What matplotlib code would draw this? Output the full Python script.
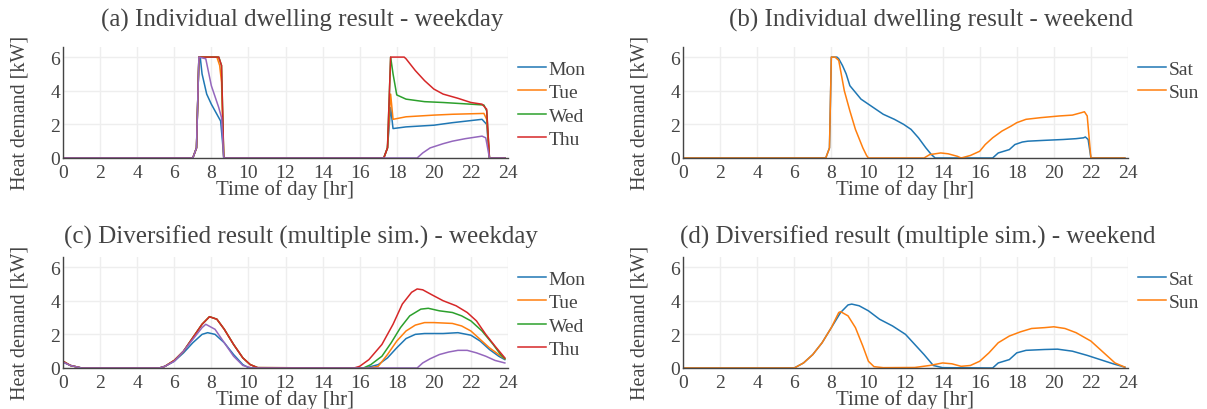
import matplotlib
matplotlib.use("Agg")
import matplotlib.pyplot as plt

plt.rcParams['font.family'] = ['Liberation Serif', 'DejaVu Serif']

# ---- (a) individual dwelling, weekday ----
a_mon_t = [0, 7.0, 7.2, 7.33, 7.4, 7.5, 7.75, 8.0, 8.3, 8.5, 8.6, 8.67, 17.3, 17.5, 17.67, 17.8, 18.5, 20, 21, 22.6, 22.85, 23.0, 23.83]
a_mon_v = [0, 0, 0.6, 6.0, 6.0, 5.0, 3.8, 3.2, 2.6, 2.2, 1.0, 0, 0, 0.6, 3.0, 1.75, 1.85, 1.95, 2.1, 2.3, 2.0, 0, 0]
a_tue_t = [0, 7.0, 7.2, 7.33, 8.3, 8.45, 8.55, 8.67, 17.3, 17.5, 17.67, 17.8, 18.5, 20, 21, 22.7, 22.85, 23.0, 23.83]
a_tue_v = [0, 0, 0.6, 6.0, 6.0, 5.5, 4.5, 0, 0, 0.6, 3.8, 2.3, 2.45, 2.55, 2.6, 2.65, 2.3, 0, 0]
a_wed_t = [0, 7.0, 7.2, 7.33, 8.4, 8.55, 8.67, 17.3, 17.5, 17.67, 17.8, 18.0, 18.5, 19.5, 20.5, 22.0, 22.7, 22.85, 23.0, 23.83]
a_wed_v = [0, 0, 0.6, 6.0, 6.0, 5.5, 0, 0, 0.6, 6.0, 5.0, 3.75, 3.5, 3.35, 3.3, 3.2, 3.15, 2.8, 0, 0]
a_thu_t = [0, 7.0, 7.2, 7.33, 8.4, 8.55, 8.67, 17.3, 17.5, 17.67, 18.4, 18.5, 19.0, 19.5, 20.0, 20.5, 21.3, 22.0, 22.6, 22.85, 23.0, 23.83]
a_thu_v = [0, 0, 0.6, 6.0, 6.0, 5.5, 0, 0, 0.6, 6.0, 6.0, 5.9, 5.2, 4.6, 4.1, 3.8, 3.55, 3.3, 3.2, 2.9, 0, 0]
a_fri_t = [0, 7.0, 7.2, 7.33, 7.7, 8.0, 8.4, 8.55, 8.67, 19.1, 19.4, 19.8, 20.5, 21.0, 21.7, 22.3, 22.6, 22.8, 23.0, 23.83]
a_fri_v = [0, 0, 0.6, 6.0, 5.9, 4.3, 3.0, 2.4, 0, 0, 0.3, 0.6, 0.85, 1.0, 1.15, 1.25, 1.3, 1.2, 0, 0]

# ---- (b) individual dwelling, weekend ----
b_sat_t = [0, 7.7, 7.9, 8.0, 8.3, 8.4, 8.6, 8.8, 9.0, 9.3, 9.6, 10.0, 10.4, 10.8, 11.4, 11.9, 12.3, 12.7, 13.1, 13.4, 13.6,
           16.7, 17.0, 17.3, 17.6, 17.9, 18.3, 18.6, 19.5, 20.5, 21.2, 21.6, 21.7, 21.85, 22.0, 23.83]
b_sat_v = [0, 0, 0.6, 6.0, 6.0, 5.9, 5.5, 5.0, 4.3, 3.9, 3.5, 3.2, 2.9, 2.6, 2.3, 2.0, 1.7, 1.2, 0.6, 0.2, 0,
           0, 0.3, 0.4, 0.5, 0.8, 0.95, 1.0, 1.05, 1.1, 1.15, 1.2, 1.25, 1.1, 0, 0]
b_sun_t = [0, 7.7, 7.9, 8.0, 8.2, 8.4, 8.7, 9.0, 9.3, 9.7, 9.9, 10.0, 13.0, 13.3, 13.9, 14.3, 14.8, 15.0, 15.5, 16.0, 16.3,
           16.7, 17.2, 17.7, 18.0, 18.5, 19.3, 20.3, 21.0, 21.5, 21.65, 21.8, 22.0, 23.83]
b_sun_v = [0, 0, 0.6, 6.0, 6.0, 5.8, 4.0, 2.8, 1.7, 0.6, 0.15, 0, 0, 0.2, 0.3, 0.25, 0.1, 0.0, 0.15, 0.4, 0.8,
           1.2, 1.6, 1.9, 2.1, 2.3, 2.4, 2.5, 2.55, 2.7, 2.75, 2.5, 0, 0]

# ---- (c) diversified, weekday ----
c_mon_t = [0, 0.4, 0.8, 1.0, 5.2, 5.5, 6.0, 6.5, 7.0, 7.5, 7.8, 8.2, 8.7, 9.2, 9.7, 10.0, 10.3,
           16.3, 17.0, 17.5, 18.0, 18.5, 19.0, 19.5, 20.5, 21.3, 22.0, 22.5, 23.0, 23.5, 23.83]
c_mon_v = [0.35, 0.15, 0.05, 0, 0, 0.1, 0.4, 0.9, 1.5, 2.0, 2.1, 2.0, 1.5, 0.8, 0.2, 0.02, 0,
           0, 0.2, 0.6, 1.2, 1.75, 2.0, 2.05, 2.05, 2.1, 1.95, 1.6, 1.1, 0.7, 0.5]
c_tue_t = [0, 0.4, 0.8, 1.0, 5.2, 5.5, 6.0, 6.5, 7.0, 7.5, 7.9, 8.3, 8.7, 9.2, 9.7, 10.1, 10.5,
           16.5, 17.0, 17.5, 18.0, 18.5, 19.0, 19.5, 20.0, 21.0, 21.5, 22.0, 22.5, 23.0, 23.5, 23.83]
c_tue_v = [0.4, 0.15, 0.05, 0, 0, 0.1, 0.45, 1.0, 1.8, 2.6, 3.05, 2.9, 2.3, 1.4, 0.6, 0.2, 0.02,
           0, 0.1, 0.8, 1.6, 2.2, 2.55, 2.7, 2.7, 2.65, 2.5, 2.2, 1.7, 1.2, 0.8, 0.55]
c_wed_t = [0, 0.4, 0.8, 1.0, 5.2, 5.5, 6.0, 6.5, 7.0, 7.5, 7.9, 8.3, 8.7, 9.2, 9.7, 10.1, 10.5,
           16.2, 16.6, 17.2, 17.7, 18.2, 18.7, 19.3, 19.7, 20.3, 21.0, 21.5, 22.0, 22.6, 23.2, 23.6, 23.83]
c_wed_v = [0.4, 0.15, 0.05, 0, 0, 0.1, 0.45, 1.0, 1.8, 2.6, 3.05, 2.9, 2.3, 1.4, 0.6, 0.2, 0.02,
           0, 0.2, 0.7, 1.5, 2.4, 3.1, 3.5, 3.55, 3.4, 3.3, 3.1, 2.8, 2.2, 1.4, 0.8, 0.55]
c_thu_t = [0, 0.4, 0.8, 1.0, 5.2, 5.5, 6.0, 6.5, 7.0, 7.5, 7.9, 8.3, 8.7, 9.2, 9.7, 10.1, 10.5,
           15.7, 16.0, 16.5, 17.2, 17.8, 18.3, 18.8, 19.1, 19.4, 19.9, 20.5, 21.2, 21.8, 22.3, 22.8, 23.3, 23.83]
c_thu_v = [0.4, 0.15, 0.05, 0, 0, 0.1, 0.45, 1.0, 1.8, 2.6, 3.05, 2.9, 2.3, 1.4, 0.6, 0.2, 0.02,
           0, 0.1, 0.5, 1.4, 2.6, 3.8, 4.5, 4.7, 4.65, 4.35, 4.0, 3.7, 3.3, 2.8, 2.0, 1.3, 0.6]
c_fri_t = [0, 0.4, 0.8, 1.0, 5.2, 5.5, 6.0, 6.5, 7.0, 7.5, 7.7, 8.2, 8.7, 9.2, 9.7, 10.2,
           19.1, 19.4, 19.8, 20.3, 20.8, 21.3, 21.8, 22.3, 22.8, 23.3, 23.83]
c_fri_v = [0.35, 0.15, 0.05, 0, 0, 0.1, 0.4, 1.0, 1.7, 2.4, 2.6, 2.3, 1.5, 0.7, 0.15, 0,
           0, 0.3, 0.55, 0.8, 0.95, 1.05, 1.05, 0.9, 0.7, 0.45, 0.3]

# ---- (d) diversified, weekend ----
d_sat_t = [0, 6.0, 6.5, 7.0, 7.5, 8.0, 8.5, 8.9, 9.1, 9.5, 10.0, 10.6, 11.3, 12.0, 12.5, 13.0, 13.5, 14.0,
           16.7, 17.0, 17.6, 18.0, 18.5, 19.5, 20.2, 21.0, 21.8, 22.5, 23.2, 23.83]
d_sat_v = [0, 0, 0.3, 0.8, 1.5, 2.4, 3.3, 3.75, 3.8, 3.7, 3.4, 2.9, 2.5, 2.0, 1.4, 0.8, 0.15, 0.02,
           0, 0.3, 0.5, 0.9, 1.05, 1.1, 1.12, 1.0, 0.75, 0.5, 0.25, 0.05]
d_sun_t = [0, 6.0, 6.5, 7.0, 7.5, 8.0, 8.4, 8.5, 8.9, 9.3, 9.7, 10.0, 10.3, 10.8, 12.5, 13.3, 14.0, 14.5, 15.0, 15.5,
           16.0, 16.5, 17.0, 17.6, 18.2, 18.8, 19.5, 20.0, 20.6, 21.2, 22.0, 22.7, 23.3, 23.83]
d_sun_v = [0, 0, 0.3, 0.8, 1.5, 2.4, 3.3, 3.35, 3.1, 2.4, 1.3, 0.4, 0.08, 0.02, 0.03, 0.15, 0.3, 0.25, 0.1, 0.15,
           0.4, 0.9, 1.5, 1.9, 2.15, 2.35, 2.4, 2.45, 2.35, 2.1, 1.6, 0.9, 0.3, 0.05]

weekday_labels = ["Mon", "Tue", "Wed", "Thu"]
weekend_labels = ["Sat", "Sun"]
colors = ["#1f77b4", "#ff7f0e", "#2ca02c", "#d62728", "#9467bd"]
titles = ["(a) Individual dwelling result - weekday",
          "(b) Individual dwelling result - weekend",
          "(c) Diversified result (multiple sim.) - weekday",
          "(d) Diversified result (multiple sim.) - weekend"]

panels = [
    [(a_mon_t, a_mon_v), (a_tue_t, a_tue_v), (a_wed_t, a_wed_v), (a_thu_t, a_thu_v), (a_fri_t, a_fri_v)],
    [(b_sat_t, b_sat_v), (b_sun_t, b_sun_v)],
    [(c_mon_t, c_mon_v), (c_tue_t, c_tue_v), (c_wed_t, c_wed_v), (c_thu_t, c_thu_v), (c_fri_t, c_fri_v)],
    [(d_sat_t, d_sat_v), (d_sun_t, d_sun_v)],
]

W, H = 1207, 410
fig = plt.figure(figsize=(W / 100, H / 100), dpi=100)
txt = "#444444"

# axes boxes in pixels: left, top, right, bottom
boxes = [(63, 48, 508, 159), (683, 48, 1128, 159), (63, 258, 508, 369), (683, 258, 1128, 369)]
title_pos = [(302, 20), (931, 20), (301, 237), (918, 237)]

for i, (l, t, r, b) in enumerate(boxes):
    w, h = r - l, b - t
    ax = fig.add_axes([l / W, 1 - b / H, w / W, h / H])
    lines = []
    for j, (tt, vv) in enumerate(panels[i]):
        ln, = ax.plot(tt, vv, color=colors[j], lw=1.1)
        lines.append(ln)
    ax.set_xlim(0, 24)
    ax.set_ylim(0, 6.6)
    ax.set_xticks(range(0, 25, 2))
    ax.set_yticks([0, 2, 4, 6])
    ax.grid(True, color="#eeeeee", lw=1)
    ax.set_axisbelow(True)
    for s in ["top", "right"]:
        ax.spines[s].set_visible(False)
    for s in ["left", "bottom"]:
        ax.spines[s].set_color("#444444")
        ax.spines[s].set_linewidth(1)
    ax.tick_params(length=0, labelsize=14, colors=txt)
    ax.tick_params(axis="x", pad=4.5)
    ax.tick_params(axis="y", pad=2)
    ax.set_xlabel("Time of day [hr]", fontsize=15, color=txt)
    ax.xaxis.set_label_coords(0.5, -21 / h)
    ax.set_ylabel("Heat demand [kW]", fontsize=14.5, color=txt)
    ax.yaxis.set_label_coords(-33 / w, 1 - 65 / h)
    labels = weekday_labels if i % 2 == 0 else weekend_labels
    ax.legend(lines[:len(labels)], labels, loc="upper left", bbox_to_anchor=(1.0, 0.97),
              frameon=False, fontsize=14, handlelength=1.45, handletextpad=0.15,
              labelspacing=0.3, labelcolor=txt, borderaxespad=0.0, borderpad=0.5)
    tx, ty = title_pos[i]
    fig.text(tx / W, 1 - ty / H, titles[i], ha="center", va="center", fontsize=18, color=txt)

fig.savefig("out.png", dpi=100)
